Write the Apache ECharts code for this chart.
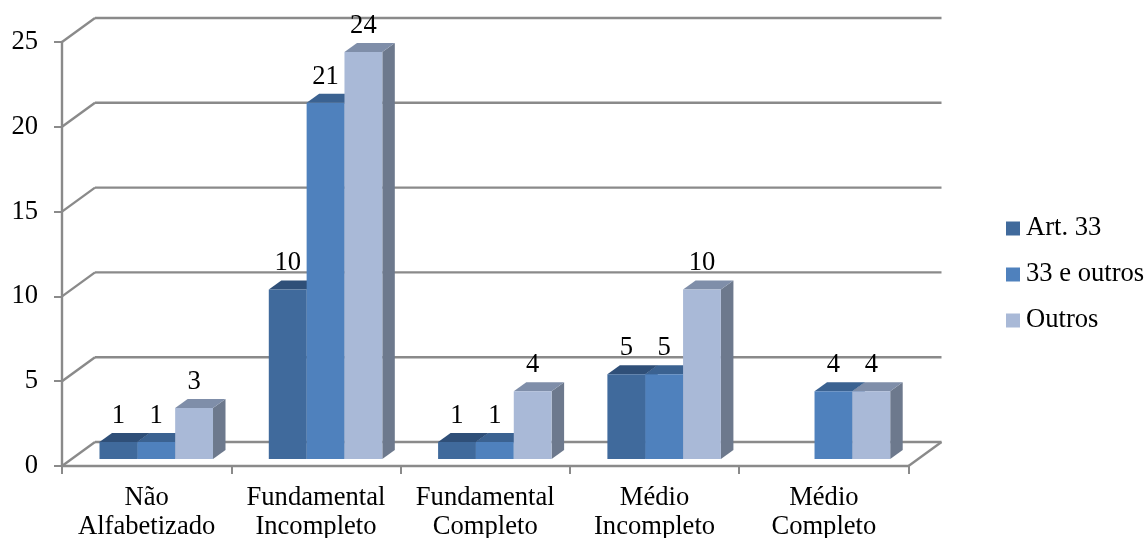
<!DOCTYPE html>
<html>
<head>
<meta charset="utf-8">
<style>html,body{margin:0;padding:0;background:#fff}#chart{width:1144px;height:538px}</style>
<script src="https://cdn.jsdelivr.net/npm/echarts@6/dist/echarts.min.js"></script>
</head>
<body>
<div id="chart"></div>
<script>
const categories = ['Não\nAlfabetizado', 'Fundamental\nIncompleto', 'Fundamental\nCompleto', 'Médio\nIncompleto', 'Médio\nCompleto'];
const art33 = [1, 10, 1, 5, null];
const art33Outros = [1, 21, 1, 5, 4];
const outros = [3, 24, 4, 10, 4];
const yTicks = [0, 5, 10, 15, 20, 25];

const seriesNames = ['Art. 33', '33 e outros', 'Outros'];
const seriesValues = [art33, art33Outros, outros];
const palette = [
  { front: '#406a9c', top: '#2f4f78', side: '#2f4f78' },
  { front: '#4f81bd', top: '#3b6291', side: '#3b6291' },
  { front: '#a9b9d7', top: '#7f8ea9', side: '#6d798d' }
];

const FONT = '"Liberation Serif", "Times New Roman", serif';
const FONT_SIZE = 26.6;
const WALL_COLOR = '#8a8a8a';
const LINE_WIDTH = 2.4;
// Oblique projection of the chart box
const WALL_DX = 33, WALL_DY = -24;
const BAR_SHIFT_X = 9.6, BAR_SHIFT_Y = -7;
const BAR_DX = 12.5, BAR_DY = -9;
const BAR_BAND_RATIO = 0.2235;

function wallLine(x1, y1, x2, y2) {
  return {
    type: 'line',
    shape: { x1, y1, x2, y2 },
    style: { stroke: WALL_COLOR, lineWidth: LINE_WIDTH, fill: null },
    silent: true
  };
}

// Back-wall rule for each tick, its diagonal on the side wall, and the floor's right edge
function renderWall(params, api) {
  const cs = params.coordSys;
  const y = api.coord([0, api.value(1)])[1];
  const left = cs.x, right = cs.x + cs.width;
  const children = [
    wallLine(left, y, left + WALL_DX, y + WALL_DY),
    wallLine(left + WALL_DX, y + WALL_DY, right + WALL_DX, y + WALL_DY)
  ];
  if (api.value(1) === 0) {
    children.push(wallLine(right, y, right + WALL_DX, y + WALL_DY));
  }
  return { type: 'group', children };
}

function poly(points, fill) {
  return { type: 'polygon', shape: { points }, style: { fill, stroke: null }, silent: true };
}

// One extruded column: side and top faces, front face, then its value above
function makeBarRenderer(seriesIdx) {
  const colors = palette[seriesIdx];
  return function (params, api) {
    const value = api.value(1);
    if (value == null || isNaN(value)) return null;
    const top = api.coord([api.value(0), value]);
    const base = api.coord([api.value(0), 0]);
    const w = api.size([1, 0])[0] * BAR_BAND_RATIO;
    const x0 = top[0] + BAR_SHIFT_X + (seriesIdx - 1.5) * w;
    const x1 = x0 + w;
    const yT = top[1] + BAR_SHIFT_Y;
    const yB = base[1] + BAR_SHIFT_Y;
    return {
      type: 'group',
      children: [
        poly([[x1, yT], [x1 + BAR_DX, yT + BAR_DY], [x1 + BAR_DX, yB + BAR_DY], [x1, yB]], colors.side),
        poly([[x0, yT], [x0 + BAR_DX, yT + BAR_DY], [x1 + BAR_DX, yT + BAR_DY], [x1, yT]], colors.top),
        { type: 'rect', shape: { x: x0, y: yT, width: w, height: yB - yT }, style: { fill: colors.front }, silent: true },
        {
          type: 'text',
          silent: true,
          style: {
            text: String(value),
            x: (x0 + x1) / 2,
            y: yT - 26,
            align: 'center',
            verticalAlign: 'middle',
            fill: '#000',
            font: FONT_SIZE + 'px ' + FONT
          }
        }
      ]
    };
  };
}

const chart = echarts.init(document.getElementById('chart'), null, { renderer: 'canvas' });
chart.setOption({
  animation: false,
  backgroundColor: '#fff',
  textStyle: { fontFamily: FONT },
  grid: { left: 62, right: 235.5, top: 42, bottom: 72, containLabel: false, outerBoundsMode: 'none' },
  legend: {
    orient: 'vertical',
    left: 1001,
    top: 210,
    itemWidth: 14,
    itemHeight: 14,
    itemGap: 19,
    icon: 'rect',
    data: seriesNames,
    textStyle: { color: '#000', fontSize: FONT_SIZE, fontFamily: FONT, padding: [0, 0, 0, 1] }
  },
  xAxis: {
    type: 'category',
    data: categories,
    axisLine: { lineStyle: { color: WALL_COLOR, width: LINE_WIDTH } },
    axisTick: { show: true, length: 8, alignWithLabel: false, lineStyle: { color: WALL_COLOR, width: 2 } },
    axisLabel: { color: '#000', fontSize: FONT_SIZE, fontFamily: FONT, lineHeight: 29, margin: 18, interval: 0 },
    splitLine: { show: false }
  },
  yAxis: {
    type: 'value',
    min: 0,
    max: 25,
    interval: 5,
    axisLine: { show: true, lineStyle: { color: WALL_COLOR, width: LINE_WIDTH } },
    axisTick: { show: true, length: 8, lineStyle: { color: WALL_COLOR, width: 2 } },
    axisLabel: { color: '#000', fontSize: FONT_SIZE, fontFamily: FONT, margin: 24 },
    splitLine: { show: false }
  },
  series: [
    {
      type: 'custom',
      name: 'wall',
      coordinateSystem: 'cartesian2d',
      renderItem: renderWall,
      encode: { x: 0, y: 1 },
      data: yTicks.map(t => [0, t]),
      silent: true,
      z: 1
    }
  ].concat(seriesNames.map((name, i) => ({
    type: 'custom',
    name,
    coordinateSystem: 'cartesian2d',
    renderItem: makeBarRenderer(i),
    encode: { x: 0, y: 1 },
    itemStyle: { color: palette[i].front },
    data: seriesValues[i].map((v, c) => [c, v]),
    z: 2 + i
  })))
});
</script>
</body>
</html>
